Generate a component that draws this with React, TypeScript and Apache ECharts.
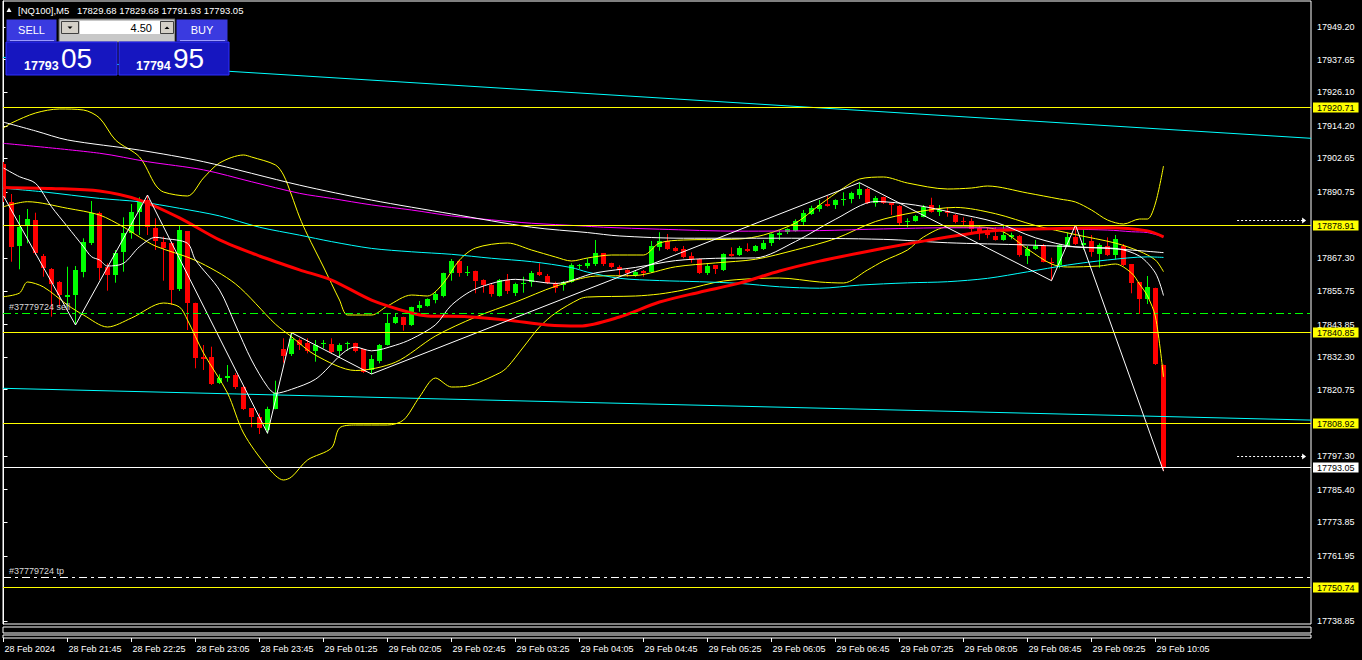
import React, { useEffect, useRef } from 'react';
import * as echarts from 'echarts';

const FONT = '"Liberation Sans", Arial, sans-serif';

// ---------- candles (M5, index 0 = 28 Feb 21:05) ----------
const OPEN = [17900.68,17887.33,17871.64,17878.73,17880.85,17868.10,17863.50,17858.90,17853.69,17854.29,
17862.55,17872.81,17883.44,17864.31,17861.13,17869.27,17876.35,17883.79,17887.93,17877.91,
17873.17,17872.60,17856.31,17876.96,17851.57,17832.45,17832.45,17823.24,17824.90,17825.97,
17821.82,17814.18,17810.99,17806.49,17814.18,17835.07,17833.30,17838.36,17837.40,17834.57,
17836.94,17836.94,17834.57,17836.94,17837.19,17835.07,17827.74,17831.03,17836.59,17844.27,
17846.40,17843.67,17849.80,17850.40,17852.52,17853.94,17862.19,17866.33,17862.33,17862.79,
17859.61,17857.83,17853.94,17859.61,17855.11,17858.19,17858.65,17862.33,17861.02,17858.65,
17857.83,17859.00,17864.67,17864.67,17865.27,17869.06,17865.52,17864.31,17863.15,17861.38,
17862.79,17862.33,17871.40,17873.41,17871.04,17870.48,17868.10,17867.04,17862.19,17864.92,
17863.15,17868.81,17868.46,17870.69,17869.88,17870.58,17872.60,17875.54,17876.71,17877.06,
17879.89,17882.98,17884.64,17886.52,17886.16,17887.68,17888.29,17889.70,17891.72,17886.76,
17888.89,17886.76,17885.81,17880.39,17880.50,17882.02,17886.16,17883.58,17884.04,17882.62,
17880.50,17880.50,17877.91,17877.31,17875.18,17873.77,17874.72,17875.18,17867.86,17870.48,
17871.64,17866.08,17864.92,17871.64,17874.94,17871.99,17873.41,17868.81,17871.64,17868.46,
17871.64,17865.27,17859.00,17852.88,17856.88,17829.68];

const HIGH = [17901.39,17890.06,17882.62,17884.75,17883.44,17868.81,17863.85,17859.25,17864.31,17864.56,
17874.37,17887.58,17883.79,17865.52,17870.23,17881.81,17886.52,17888.89,17889.70,17881.45,
17874.94,17873.17,17879.08,17876.96,17851.57,17836.59,17835.99,17826.21,17829.51,17826.67,
17822.07,17814.18,17812.40,17814.74,17823.95,17838.96,17840.95,17838.96,17838.96,17838.36,
17838.36,17838.96,17837.19,17837.76,17837.40,17835.07,17833.05,17836.94,17847.81,17847.81,
17846.61,17850.15,17852.17,17853.12,17855.46,17862.19,17867.04,17866.69,17864.56,17862.90,
17859.85,17858.19,17859.96,17861.73,17858.65,17860.77,17862.79,17865.52,17861.73,17859.00,
17859.25,17865.52,17865.27,17867.29,17873.77,17869.17,17865.73,17864.81,17863.39,17862.79,
17863.15,17873.41,17876.50,17875.89,17871.40,17871.64,17869.41,17867.29,17865.52,17864.92,
17869.06,17871.18,17871.64,17872.60,17871.99,17873.77,17876.14,17877.31,17877.91,17881.10,
17884.39,17885.91,17887.93,17889.35,17888.18,17890.66,17890.87,17894.06,17892.29,17889.35,
17889.10,17886.76,17886.16,17881.45,17882.62,17886.16,17888.75,17886.16,17885.35,17882.98,
17881.81,17881.45,17878.73,17878.27,17878.27,17878.73,17876.35,17875.54,17871.64,17873.77,
17872.35,17867.50,17872.35,17876.35,17879.08,17878.27,17875.54,17872.60,17874.72,17875.54,
17872.35,17865.27,17859.00,17861.02,17856.88,17829.68];

const LOW = [17887.22,17866.08,17863.39,17872.60,17868.46,17860.77,17846.61,17850.15,17850.15,17843.67,
17860.56,17872.00,17859.60,17855.82,17858.65,17862.55,17874.23,17875.54,17875.54,17870.23,
17859.36,17850.75,17855.71,17841.90,17828.34,17827.74,17822.43,17822.78,17823.59,17821.01,
17813.57,17807.45,17805.07,17805.32,17813.82,17830.32,17832.69,17834.82,17833.65,17830.68,
17835.42,17833.65,17832.45,17834.57,17834.00,17826.67,17826.32,17830.11,17836.40,17844.02,
17841.65,17843.32,17848.38,17850.15,17851.35,17853.48,17859.36,17860.77,17861.02,17854.90,
17855.11,17853.69,17853.69,17854.65,17853.94,17855.11,17857.23,17861.02,17858.19,17855.11,
17855.82,17858.65,17863.50,17863.75,17864.56,17864.56,17863.75,17861.38,17860.77,17860.77,
17860.77,17862.19,17869.98,17870.23,17869.63,17867.29,17865.73,17861.73,17861.38,17861.73,
17862.79,17867.86,17868.10,17869.52,17869.63,17870.23,17871.64,17873.77,17875.89,17876.71,
17879.08,17882.62,17883.79,17885.56,17884.75,17885.91,17886.76,17888.29,17886.52,17885.56,
17886.52,17882.62,17879.08,17878.27,17880.25,17881.81,17883.44,17882.27,17882.02,17879.68,
17878.73,17876.14,17873.77,17874.37,17873.60,17873.52,17874.02,17867.86,17865.27,17870.23,
17865.87,17859.36,17863.75,17871.40,17871.99,17870.23,17867.86,17863.96,17868.10,17866.93,
17864.56,17854.90,17847.57,17851.11,17829.51,17791.93];

const CLOSE = [17888.64,17871.40,17878.48,17881.20,17869.06,17863.75,17858.19,17854.19,17854.40,17863.15,
17873.17,17883.44,17863.96,17861.38,17869.06,17876.14,17883.79,17887.33,17878.27,17873.17,
17871.18,17855.82,17877.31,17851.35,17832.23,17831.74,17822.78,17825.01,17825.61,17821.61,
17814.18,17810.99,17807.09,17813.82,17819.70,17832.69,17838.61,17836.59,17834.46,17836.59,
17837.19,17834.22,17836.59,17837.19,17834.22,17826.92,17831.53,17836.59,17844.27,17846.40,
17843.57,17849.94,17850.75,17852.77,17854.65,17861.98,17866.33,17862.19,17862.55,17859.36,
17857.83,17854.65,17859.61,17855.82,17858.19,17858.65,17861.98,17861.13,17858.65,17857.02,
17859.00,17864.92,17864.92,17865.73,17869.06,17865.27,17863.96,17863.15,17861.98,17862.55,
17862.19,17871.64,17873.41,17870.58,17869.98,17867.64,17867.04,17862.19,17864.56,17863.50,
17868.81,17868.10,17870.94,17869.88,17871.64,17872.81,17875.89,17876.14,17877.66,17880.60,
17883.22,17884.99,17886.16,17885.91,17887.93,17888.18,17890.52,17891.72,17886.76,17888.53,
17886.76,17885.91,17879.89,17880.60,17882.27,17885.56,17883.79,17884.39,17883.22,17880.04,
17880.25,17877.56,17876.71,17875.54,17873.77,17875.54,17875.54,17868.46,17870.48,17871.64,
17866.08,17865.73,17871.99,17874.94,17872.35,17872.60,17869.63,17871.99,17868.46,17874.12,
17864.92,17858.65,17852.88,17857.02,17829.90,17793.05];

// ---------- indicators, [bar index, price] ----------
const MA_RED = [[0,17892.4],[6,17892.0],[12,17891.1],[17,17887.9],[22,17881.6],[27,17873.8],[32,17868.1],[37,17863.2],[41,17859.6],[46,17852.5],[51,17847.9],[53,17846.9],[58,17846.6],[63,17845.4],[68,17843.7],[72,17843.3],[77,17846.5],[82,17851.8],[87,17855.3],[92,17858.5],[97,17862.8],[102,17866.3],[107,17869.2],[113,17872.4],[118,17874.8],[123,17876.9],[128,17877.6],[133,17877.9],[138,17878.1],[143,17877.0],[145,17874.9]];
const MA_CYAN = [[0,17892.1],[5,17890.8],[12,17888.5],[17,17887.3],[22,17885.0],[27,17882.3],[32,17878.3],[37,17875.5],[41,17873.2],[46,17870.8],[51,17869.6],[56,17868.7],[61,17867.3],[66,17866.1],[71,17864.0],[73,17862.4],[77,17860.2],[82,17859.4],[87,17859.0],[92,17858.4],[97,17857.2],[102,17856.7],[107,17857.8],[113,17858.6],[118,17859.0],[123,17860.2],[128,17862.5],[133,17864.9],[138,17866.7],[143,17867.8],[145,17867.6]];
const MA_MAGENTA = [[0,17908.0],[12,17904.5],[18,17901.5],[25,17898.6],[31,17894.4],[37,17890.3],[41,17888.5],[46,17886.2],[51,17884.4],[56,17882.3],[61,17880.9],[66,17879.7],[72,17878.8],[75,17878.3],[82,17877.6],[92,17876.9],[102,17877.1],[110,17877.7],[118,17878.1],[128,17877.9],[138,17877.3],[141,17876.7],[143,17876.4],[145,17874.9]];
const MA_WHITE_SLOW = [[0,17915.5],[4,17912.4],[8,17909.2],[17,17905.6],[25,17901.5],[37,17893.2],[46,17887.9],[56,17883.0],[66,17878.3],[73,17876.4],[77,17875.2],[85,17874.4],[97,17874.4],[110,17874.0],[118,17872.8],[128,17872.0],[138,17870.8],[145,17869.3]];
const MA_WHITE_FAST = [[0,17899.26],[2,17896.18],[4,17893.85],[6,17885.56],[8,17878.48],[10,17871.40],[11,17867.86],[12,17866.69],[13,17864.56],[15,17865.52],[17,17871.40],[19,17874.72],[20,17874.37],[23,17872.60],[24,17866.69],[27,17856.06],[29,17843.67],[31,17831.28],[33,17821.82],[34,17819.49],[36,17820.90],[39,17824.48],[44,17835.85],[46,17834.53],[49,17836.52],[51,17838.71],[54,17843.74],[56,17850.72],[59,17856.42],[64,17859.85],[69,17858.37],[74,17862.12],[79,17864.07],[84,17866.47],[89,17867.29],[94,17867.43],[99,17873.24],[104,17881.13],[109,17887.40],[114,17886.13],[119,17883.26],[124,17880.07],[129,17874.55],[134,17871.29],[139,17870.79],[142,17868.07],[144,17862.05],[145,17854.12]];
const BB_UPPER = [[0,17913.43],[1,17915.20],[4,17918.74],[7,17920.16],[10,17919.80],[12,17916.97],[14,17909.18],[17,17903.16],[19,17893.24],[20,17890.76],[23,17889.35],[25,17895.72],[27,17901.04],[30,17903.87],[31,17903.16],[34,17900.33],[35,17896.79],[36,17889.70],[37,17881.91],[38,17875.54],[40,17864.21],[42,17852.52],[43,17847.21],[46,17847.21],[48,17850.40],[51,17854.29],[53,17853.94],[55,17858.55],[57,17866.69],[59,17870.94],[63,17872.71],[66,17870.23],[69,17867.75],[71,17866.33],[73,17867.40],[76,17868.46],[80,17868.46],[82,17872.71],[85,17873.77],[92,17874.12],[95,17875.54],[99,17879.79],[102,17886.16],[105,17892.18],[107,17895.37],[110,17896.08],[113,17893.95],[118,17891.83],[121,17892.18],[123,17892.89],[128,17890.41],[132,17888.29],[134,17887.22],[136,17884.39],[138,17880.85],[140,17879.43],[142,17881.20],[143,17881.20],[144,17886.87],[145,17899.97]];
const BB_MIDDLE = [[0,17885.56],[3,17887.33],[8,17884.99],[12,17882.62],[15,17878.37],[17,17874.83],[19,17871.61],[24,17866.54],[29,17858.22],[34,17843.95],[36,17839.53],[39,17832.98],[44,17827.56],[49,17830.50],[54,17839.78],[59,17846.47],[64,17851.78],[69,17857.38],[74,17860.99],[79,17861.20],[84,17864.28],[89,17865.66],[94,17866.94],[99,17870.26],[104,17874.26],[109,17880.32],[114,17883.61],[119,17885.31],[124,17883.08],[129,17878.90],[134,17875.68],[139,17872.67],[142,17869.77],[144,17866.65],[145,17862.54]];
const BB_LOWER = [[0,17853.69],[2,17855.00],[3,17858.90],[5,17857.13],[8,17850.75],[10,17847.21],[13,17842.96],[16,17846.15],[20,17851.46],[22,17850.04],[23,17845.44],[25,17833.76],[28,17819.59],[30,17805.43],[33,17793.39],[35,17788.79],[36,17789.85],[38,17795.87],[41,17800.12],[42,17807.20],[44,17808.26],[48,17808.26],[50,17810.03],[52,17818.18],[54,17824.90],[56,17821.72],[58,17822.07],[62,17826.67],[63,17828.80],[65,17835.88],[67,17842.96],[69,17847.92],[72,17852.88],[73,17853.58],[79,17853.94],[82,17854.65],[85,17856.06],[90,17859.25],[97,17860.31],[102,17858.90],[105,17858.55],[108,17863.15],[110,17866.33],[113,17870.23],[115,17874.83],[118,17878.37],[122,17878.37],[125,17876.60],[128,17870.58],[131,17865.27],[133,17864.21],[137,17864.56],[139,17865.27],[141,17862.08],[142,17858.19],[143,17853.94],[144,17846.50],[145,17825.26]];
const ZIGZAG = [[0,17889.35],[9,17843.67],[18,17889.70],[33,17805.32],[36,17840.95],[46,17826.32],[107,17894.06],[131,17859.36],[134,17879.08],[145,17791.93]];

// ---------- objects ----------
const TREND_TOP = [[-0.0625,17938.46],[163.4375,17909.78]];
const TREND_BOTTOM = [[-0.0625,17821.26],[163.4375,17810.00]];
const YELLOW_LEVELS = [17920.71, 17878.91, 17840.85, 17808.92, 17750.74];
const BID = 17793.05;
const SELL_LEVEL = 17847.57;
const TP_LEVEL = 17754.09;
const ORDER_NOTES = ['#37779724 sell', '#37779724 tp'];
const ARROW_LEVELS = [17880.5, 17797.1];
const ARROW_SPAN = [154.2, 162.7];

// ---------- axes ----------
const X_MIN = -0.0625;
const X_MAX = 163.4375;
const Y_MIN = 17737.80;
const Y_MAX = 17958.40;
const X_TICKS = [0,8,16,24,32,40,48,56,64,72,80,88,96,104,112,120,128,136,144];
const X_LABELS = ['28 Feb 2024','28 Feb 21:45','28 Feb 22:25','28 Feb 23:05','28 Feb 23:45','29 Feb 01:25','29 Feb 02:05','29 Feb 02:45','29 Feb 03:25','29 Feb 04:05','29 Feb 04:45','29 Feb 05:25','29 Feb 06:05','29 Feb 06:45','29 Feb 07:25','29 Feb 08:05','29 Feb 08:45','29 Feb 09:25','29 Feb 10:05'];
const Y_TICKS = [17949.20,17937.65,17926.10,17914.20,17902.65,17890.75,17867.30,17855.75,17843.85,17832.30,17820.75,17797.30,17785.40,17773.85,17761.95,17738.85];

// ---------- header / trade panel ----------
const SYMBOL = '[NQ100],M5';
const HEADER_OHLC = ['17829.68', '17829.68', '17791.93', '17793.05'];
const LOT = '4.50';
const SELL_PRICE = ['17793', '05'];
const BUY_PRICE = ['17794', '95'];

// level styles (kind index -> look)
const LEVEL_KINDS = [
  { stroke: '#ffff00', dash: null, tag: '#ffff00', note: null },   // 0 yellow level with tag
  { stroke: '#ffffff', dash: null, tag: '#ffffff', note: null },   // 1 bid line
  { stroke: '#00ff00', dash: [8, 4, 3, 4], tag: null, note: 0 },   // 2 sell order
  { stroke: '#ffffff', dash: [8, 4, 3, 4], tag: null, note: 1 },   // 3 take profit
];

function lineSeries(name: string, data: number[][], color: string, width = 1, smooth: number | boolean = 0.3) {
  return {
    name,
    type: 'line',
    xAxisIndex: 0,
    yAxisIndex: 0,
    data,
    showSymbol: false,
    symbol: 'none',
    smooth,
    clip: true,
    silent: true,
    z: 3,
    color,
    lineStyle: { color, width },
  };
}

function buildOption() {
  const candles = OPEN.map((o, i) => [i, o, CLOSE[i], LOW[i], HIGH[i]]);
  const levels = [
    ...YELLOW_LEVELS.map((v) => [v, 0]),
    [BID, 1],
    [SELL_LEVEL, 2],
    [TP_LEVEL, 3],
  ];
  const blue = '#3a3ae0';
  const dark = '#1616c0';

  return {
    animation: false,
    backgroundColor: '#000',
    grid: [
      { left: 3, top: 1, width: 1308, height: 623, show: true, borderColor: '#ffffff', borderWidth: 1, backgroundColor: '#000' },
      { left: 3, top: 627, width: 1308, height: 6, show: true, borderColor: '#ffffff', borderWidth: 1 },
      { left: 3, top: 635, width: 1308, height: 3, show: true, borderColor: '#ffffff', borderWidth: 1 },
    ],
    xAxis: [
      { gridIndex: 0, type: 'value', min: X_MIN, max: X_MAX, show: false },
      { gridIndex: 1, type: 'value', min: X_MIN, max: X_MAX, show: false },
      {
        gridIndex: 2, type: 'value', min: X_MIN, max: X_MAX,
        splitLine: { show: false },
        axisLine: { show: false },
        axisTick: { show: true, customValues: X_TICKS, length: 4, lineStyle: { color: '#ffffff' } },
        axisLabel: {
          customValues: X_TICKS,
          formatter: (v: number) => { const k = X_TICKS.indexOf(Math.round(v)); return k >= 0 ? X_LABELS[k] : ''; },
          color: '#ffffff', fontSize: 9, fontFamily: FONT, align: 'left', margin: 6, padding: [0, 0, 0, 1],
        },
      },
    ],
    yAxis: [
      {
        gridIndex: 0, type: 'value', position: 'right', min: Y_MIN, max: Y_MAX,
        splitLine: { show: false },
        axisLine: { show: true, lineStyle: { color: '#ffffff' } },
        axisTick: { show: true, customValues: Y_TICKS, length: 4, lineStyle: { color: '#ffffff' } },
        axisLabel: { customValues: Y_TICKS, formatter: (v: number) => v.toFixed(2), color: '#ffffff', fontSize: 9, fontFamily: FONT, margin: 6 },
      },
      { gridIndex: 1, type: 'value', min: 0, max: 1, show: false },
      { gridIndex: 2, type: 'value', min: 0, max: 1, show: false },
    ],
    series: [
      {
        name: 'candles',
        type: 'custom',
        xAxisIndex: 0,
        yAxisIndex: 0,
        data: candles,
        clip: true,
        silent: true,
        z: 2,
        encode: { x: 0, y: [1, 2, 3, 4] },
        renderItem: (params: any, api: any) => {
          const i = api.value(0);
          const o = api.value(1), c = api.value(2), l = api.value(3), h = api.value(4);
          const pO = api.coord([i, o]);
          const yC = api.coord([i, c])[1];
          const yL = api.coord([i, l])[1];
          const yH = api.coord([i, h])[1];
          const col = c >= o ? '#00ff00' : '#ff0000';
          const xc = Math.floor(pO[0]) + 0.5;
          const top = Math.min(pO[1], yC);
          const bot = Math.max(pO[1], yC);
          return {
            type: 'group',
            children: [
              { type: 'line', shape: { x1: xc, y1: yH, x2: xc, y2: yL }, style: { stroke: col, lineWidth: 1 } },
              { type: 'rect', shape: { x: xc - 2.5, y: Math.round(top), width: 5, height: Math.max(Math.round(bot - top), 1) }, style: { fill: col } },
            ],
          };
        },
      },
      lineSeries('trendTop', TREND_TOP, '#00ffff', 1, false),
      lineSeries('trendBottom', TREND_BOTTOM, '#00ffff', 1, false),
      lineSeries('bbUpper', BB_UPPER, '#ffff00'),
      lineSeries('bbMiddle', BB_MIDDLE, '#ffff00'),
      lineSeries('bbLower', BB_LOWER, '#ffff00'),
      lineSeries('maMagenta', MA_MAGENTA, '#ff00ff'),
      lineSeries('maWhiteSlow', MA_WHITE_SLOW, '#ffffff'),
      lineSeries('maCyan', MA_CYAN, '#00ffff'),
      lineSeries('maRed', MA_RED, '#ff0000', 3),
      lineSeries('maWhiteFast', MA_WHITE_FAST, '#ffffff'),
      lineSeries('zigzag', ZIGZAG, '#ffffff', 1, false),
      {
        name: 'levels',
        type: 'custom',
        xAxisIndex: 0,
        yAxisIndex: 0,
        data: levels,
        clip: false,
        silent: true,
        z: 5,
        encode: { y: 0 },
        renderItem: (params: any, api: any) => {
          const price = api.value(0);
          const kind = LEVEL_KINDS[api.value(1)];
          const cs = params.coordSys;
          const y = Math.floor(api.coord([X_MIN, price])[1]) + 0.5;
          const x1 = cs.x;
          const x2 = cs.x + cs.width;
          const children: any[] = [
            { type: 'line', shape: { x1, y1: y, x2, y2: y }, style: { stroke: kind.stroke, lineWidth: 1, lineDash: kind.dash || undefined } },
          ];
          if (kind.tag) {
            children.push({
              type: 'text', x: x2 + 2, y: y,
              style: {
                text: price.toFixed(2), fill: '#000000', font: `9px ${FONT}`,
                backgroundColor: kind.tag, padding: [1, 4, 0, 4], verticalAlign: 'middle', align: 'left',
              },
            });
          }
          if (kind.note !== null) {
            children.push({
              type: 'text', x: x1 + 6, y: y - 2,
              style: { text: ORDER_NOTES[kind.note], fill: '#d8d8d8', font: `9px ${FONT}`, verticalAlign: 'bottom', align: 'left' },
            });
          }
          return { type: 'group', children };
        },
      },
      {
        name: 'arrows',
        type: 'custom',
        xAxisIndex: 0,
        yAxisIndex: 0,
        data: ARROW_LEVELS.map((v) => [v]),
        clip: false,
        silent: true,
        z: 5,
        encode: { y: 0 },
        renderItem: (params: any, api: any) => {
          const price = api.value(0);
          const a = api.coord([ARROW_SPAN[0], price]);
          const b = api.coord([ARROW_SPAN[1], price]);
          const y = Math.floor(a[1]) + 0.5;
          return {
            type: 'group',
            children: [
              { type: 'line', shape: { x1: a[0], y1: y, x2: b[0] - 2, y2: y }, style: { stroke: '#ffffff', lineWidth: 1, lineDash: [2, 2] } },
              { type: 'polygon', shape: { points: [[b[0] - 3, y - 3], [b[0] + 1, y], [b[0] - 3, y + 3]] }, style: { fill: '#ffffff' } },
            ],
          };
        },
      },
    ],
    graphic: [
      { type: 'polygon', shape: { points: [[6.5, 12], [11.5, 12], [9, 7.5]] }, style: { fill: '#ffffff' }, z: 100 },
      { type: 'text', x: 18, y: 10.5, style: { text: SYMBOL, fill: '#ffffff', font: `9.5px ${FONT}`, verticalAlign: 'middle' }, z: 100 },
      { type: 'text', x: 77, y: 10.5, style: { text: HEADER_OHLC.join(' '), fill: '#ffffff', font: `9.5px ${FONT}`, verticalAlign: 'middle' }, z: 100 },
      // SELL button
      { type: 'rect', shape: { x: 6, y: 19, width: 51, height: 23 }, style: { fill: blue, stroke: '#000', lineWidth: 1 }, z: 100 },
      { type: 'line', shape: { x1: 10, y1: 40.5, x2: 54, y2: 40.5 }, style: { stroke: '#9a9aff', lineWidth: 1 }, z: 101 },
      { type: 'text', x: 31.5, y: 30, style: { text: 'SELL', fill: '#ffffff', font: `11px ${FONT}`, align: 'center', verticalAlign: 'middle' }, z: 101 },
      // lot box
      { type: 'rect', shape: { x: 59, y: 19, width: 116, height: 23 }, style: { fill: '#c8c8c8', stroke: '#5a5a5a', lineWidth: 1 }, z: 100 },
      { type: 'rect', shape: { x: 61.5, y: 21.5, width: 17, height: 12 }, style: { fill: '#d4d0c8', stroke: '#404040', lineWidth: 1 }, z: 101 },
      { type: 'rect', shape: { x: 80, y: 21, width: 80, height: 13 }, style: { fill: '#ffffff' }, z: 101 },
      { type: 'rect', shape: { x: 160.5, y: 21.5, width: 13, height: 12 }, style: { fill: '#d4d0c8', stroke: '#404040', lineWidth: 1 }, z: 101 },
      { type: 'polygon', shape: { points: [[67.5, 26.5], [72.5, 26.5], [70, 29]] }, style: { fill: '#000' }, z: 102 },
      { type: 'polygon', shape: { points: [[164.5, 29], [169.5, 29], [167, 26.5]] }, style: { fill: '#000' }, z: 102 },
      { type: 'text', x: 152, y: 28, style: { text: LOT, fill: '#000000', font: `11px ${FONT}`, align: 'right', verticalAlign: 'middle' }, z: 102 },
      // BUY button
      { type: 'rect', shape: { x: 176, y: 19, width: 52, height: 23 }, style: { fill: blue, stroke: '#000', lineWidth: 1 }, z: 100 },
      { type: 'line', shape: { x1: 180, y1: 40.5, x2: 225, y2: 40.5 }, style: { stroke: '#9a9aff', lineWidth: 1 }, z: 101 },
      { type: 'text', x: 202, y: 30, style: { text: 'BUY', fill: '#ffffff', font: `11px ${FONT}`, align: 'center', verticalAlign: 'middle' }, z: 101 },
      // price boxes
      { type: 'rect', shape: { x: 6, y: 42, width: 111, height: 33 }, style: { fill: dark, stroke: '#2e2eff', lineWidth: 1 }, z: 100 },
      { type: 'rect', shape: { x: 119, y: 42, width: 110, height: 33 }, style: { fill: dark, stroke: '#2e2eff', lineWidth: 1 }, z: 100 },
      { type: 'text', x: 24, y: 65.5, style: { text: SELL_PRICE[0], fill: '#ffffff', font: `bold 12.5px ${FONT}`, verticalAlign: 'middle' }, z: 101 },
      { type: 'text', x: 61, y: 58.5, style: { text: SELL_PRICE[1], fill: '#ffffff', font: `28px ${FONT}`, verticalAlign: 'middle' }, z: 101 },
      { type: 'text', x: 136, y: 65.5, style: { text: BUY_PRICE[0], fill: '#ffffff', font: `bold 12.5px ${FONT}`, verticalAlign: 'middle' }, z: 101 },
      { type: 'text', x: 173, y: 58.5, style: { text: BUY_PRICE[1], fill: '#ffffff', font: `28px ${FONT}`, verticalAlign: 'middle' }, z: 101 },
    ],
  };
}

export default function App() {
  const ref = useRef<HTMLDivElement>(null);
  useEffect(() => {
    document.body.style.margin = '0';
    document.body.style.background = '#000';
    const chart = echarts.init(ref.current as HTMLDivElement, null, { renderer: 'svg' });
    chart.setOption(buildOption() as any);
    return () => chart.dispose();
  }, []);
  return <div ref={ref} style={{ position: 'fixed', left: 0, top: 0, width: 1362, height: 660, background: '#000' }} />;
}
